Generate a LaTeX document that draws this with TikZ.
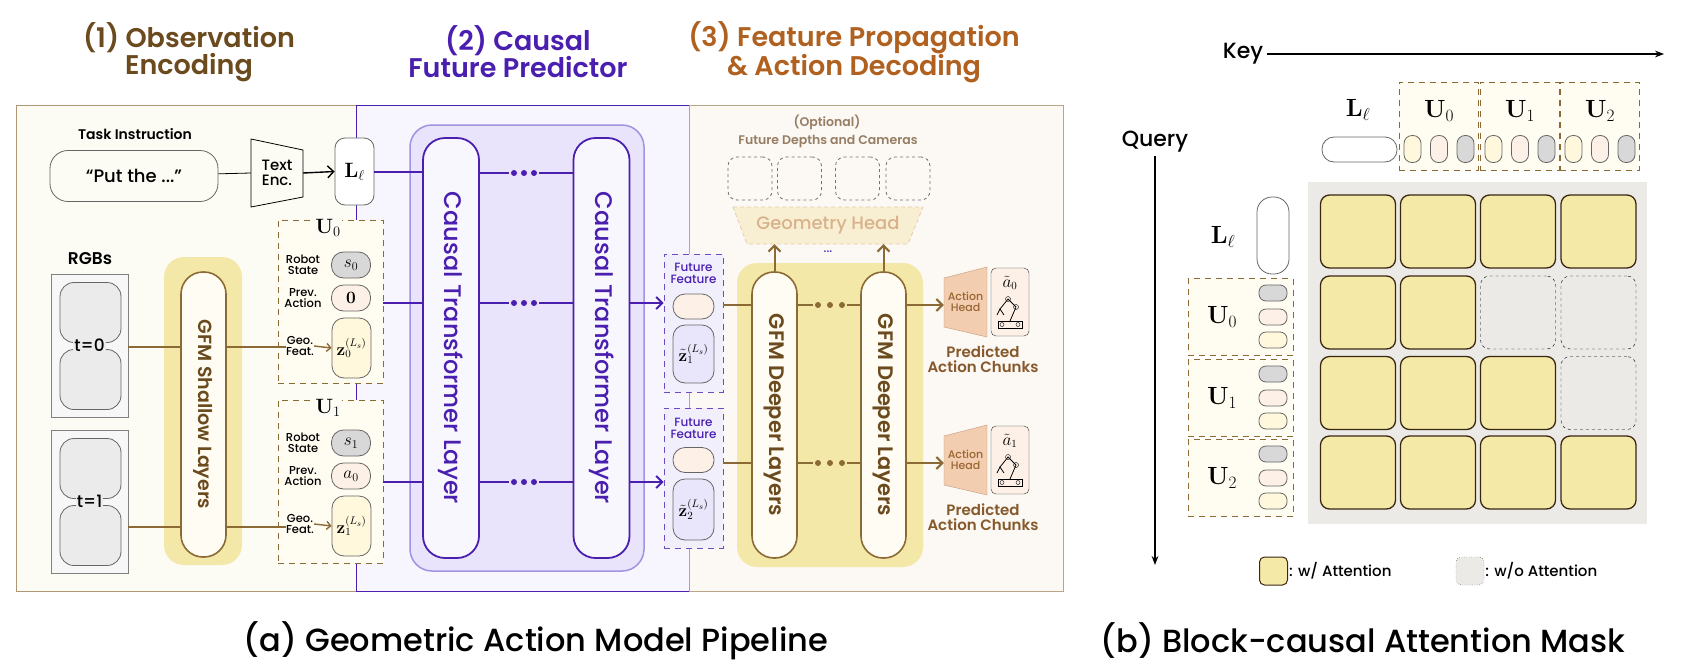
\documentclass[tikz,border=0pt]{standalone}
\usepackage[no-math]{fontspec}
\setmainfont{Poppins}[UprightFont={* Medium}, BoldFont={* SemiBold}]
\usepackage{xcolor}
\usepackage{tikz}
\usetikzlibrary{arrows.meta, positioning, calc, backgrounds}

\definecolor{obsbrown}{HTML}{6B4A1E}
\definecolor{cauPurple}{HTML}{4A1FB0}
\definecolor{decOrange}{HTML}{B0601F}
\definecolor{halo}{HTML}{F4E8A8}
\definecolor{layerfill}{HTML}{FFFDF3}
\definecolor{layerline}{HTML}{8B6A35}
\definecolor{cauhalo}{HTML}{E9E3FB}
\definecolor{cauhaloline}{HTML}{A292E0}
\definecolor{tokgray}{HTML}{D8D8D8}
\definecolor{tokpink}{HTML}{FDF0E6}
\definecolor{tokcream}{HTML}{FFF8DC}
\definecolor{toklav}{HTML}{E9E5FB}
\definecolor{cellfill}{HTML}{F4E9A6}
\definecolor{gridbg}{HTML}{EBEAE6}
\definecolor{obspanel}{HTML}{FDFCF4}
\definecolor{caupanel}{HTML}{F7F5FD}
\definecolor{decpanel}{HTML}{FCF8F3}
\definecolor{geofill}{HTML}{F8EFD2}
\definecolor{headfill}{HTML}{F3CDB0}
\definecolor{headline}{HTML}{C49A7A}

\newcommand{\fsz}[1]{\fontsize{#1}{#1}\selectfont}

\begin{document}
\begin{tikzpicture}[
    x=1pt, y=-1pt,
    font=\fsz{11},
    token/.style={draw=black!60, thick, rounded corners=#1, inner sep=0pt},
    token/.default=12,
    layer/.style={draw=layerline, line width=1.6pt, fill=layerfill, rounded corners=22, minimum width=45, minimum height=286},
    caulayer/.style={draw=cauPurple, line width=1.8pt, fill=white!70!cauhalo, rounded corners=22, minimum width=56, minimum height=420},
    ubox/.style={draw=layerline, thick, dash pattern=on 6pt off 5pt, fill=tokcream!40},
    ffbox/.style={draw=cauPurple!80, thick, dash pattern=on 6pt off 5pt, fill=toklav!60, minimum width=59},
    cell/.style={draw=black!70!brown, line width=1.3pt, fill=cellfill, rounded corners=9, minimum width=75, minimum height=73},
    nocell/.style={draw=black, thin, dashed, fill=gridbg, rounded corners=9, minimum width=75, minimum height=73},
    smalllbl/.style={align=center, font=\fsz{11.5}, inner sep=0pt},
    brownline/.style={draw=layerline, line width=2pt},
    purpline/.style={draw=cauPurple, line width=2pt},
    arrow/.style={-{Straight Barb[length=6pt,width=12pt]}, line width=2pt},
    dotsty/.style={circle, inner sep=0pt, minimum size=6pt}
  ]
  \useasboundingbox (0,0) rectangle (1682,670);

  % --- titles ---
  \node[align=center, text=obsbrown, font=\fsz{27}\bfseries] at (189,52) {(1) Observation\\Encoding};
  \node[align=center, text=cauPurple, font=\fsz{27}\bfseries] at (518,52) {(2) Causal\\Future Predictor};
  \node[align=center, text=decOrange, font=\fsz{27}\bfseries] at (854,52) {(3) Feature Propagation\\\& Action Decoding};

  % --- panels ---
  \fill[obspanel] (16,105) rectangle (356,591);
  \draw[draw=layerline!70] (356,105) -- (16,105) -- (16,591) -- (356,591);
  \filldraw[fill=caupanel, draw=cauPurple, thin] (356,105) rectangle (689,591);
  \filldraw[fill=decpanel, draw=layerline!60] (689,105) rectangle (1063,591);

  % --- observation encoding ---
  \node[font=\fsz{14}\bfseries] (tasklbl) at (135,134) {Task Instruction};
  \node[draw=black!60, thick, rounded corners=18, minimum width=168, minimum height=51, font=\fsz{18}] (prompt) at (134,176) {“Put the ...”};
  \node[minimum width=52, minimum height=68, inner sep=0pt, align=center, font=\fsz{15}] (enc) at (277,173) {Text\\Enc.};
  \draw[thick, line join=miter] ([shift={(-26,-34)}]enc.center) -- ([shift={(26,-23)}]enc.center) -- ([shift={(26,24)}]enc.center) -- ([shift={(-26,34)}]enc.center) -- cycle;
  \node[draw=black!60, thick, fill=white, rounded corners=10, minimum width=39, minimum height=67, font=\fsz{22}] (Ll) at (354.5,171.5) {$\mathbf{L}_\ell$};
  \draw[thick] (prompt) -- (enc.west);
  \draw[arrow, line width=1.4pt] (enc.east) -- (Ll.west);

  \node[font=\fsz{17}\bfseries] (rgblbl) at (90,259) {RGBs};
  \foreach \t/\yy in {0/345.5, 1/501.5}{
    \node[draw=black!50, fill=black!3, minimum width=77, minimum height=143] (rgb\t) at (89.5,\yy) {};
    \filldraw[draw=black!60, thick, fill=black!8, rounded corners=14] (60,\yy-63) rectangle (121,\yy-3);
    \filldraw[draw=black!60, thick, fill=black!8, rounded corners=14] (60,\yy+4) rectangle (121,\yy+64);
    \node[fill=black!8, inner sep=1pt, font=\fsz{17}] at (89.5,\yy) {t=\t};
  }
  \node[fill=halo, rounded corners=20, minimum width=78, minimum height=308] (shalhalo) at (203,411) {};
  \node[layer, minimum height=285] (shallow) at (203.5,414.5) {};
  \node[rotate=-90, text=obsbrown, font=\fsz{19}\bfseries] at (shallow) {GFM Shallow Layers};

  % token groups
  \node[ubox, minimum width=105, minimum height=163] (U0) at (330.5,301.5) {};
  \node[ubox, minimum width=105, minimum height=163] (U1) at (330.5,481.5) {};
  \node[fill=obspanel, inner sep=1pt, font=\fsz{22}] at (328,228) {$\mathbf{U}_0$};
  \node[fill=obspanel, inner sep=1pt, font=\fsz{22}] at (328,408) {$\mathbf{U}_1$};
  \foreach \u/\yy/\pa in {0/0/\mathbf{0}, 1/178/a_0}{
    \node[smalllbl] at (303,265+\yy) {Robot\\State};
    \node[token, fill=tokgray, minimum width=39, minimum height=26, font=\fsz{18}] (s\u) at (351,265+\yy) {$s_\u$};
    \node[smalllbl] at (303,298+\yy) {Prev.\\Action};
    \node[token, fill=tokpink, minimum width=39, minimum height=26, font=\fsz{18}] (p\u) at (351,298+\yy) {$\pa$};
    \node[smalllbl] (geo\u) at (300,346+\yy) {Geo.\\Feat.};
    \node[token, fill=tokcream, minimum width=39, minimum height=60, font=\fsz{16}] (z\u) at (351.5,348+\yy) {$\mathbf{z}_\u^{(L_s)}$};
    \draw[-{Straight Barb[length=4pt,width=8pt]}, layerline, line width=1.4pt] (geo\u.east) -- (z\u.west);
  }
  \draw[brownline] (rgb0.east |- 0,347) -- (shallow.west |- 0,347);
  \draw[brownline] (shallow.east |- 0,347) -- (geo0.west |- 0,347);
  \draw[brownline] (rgb1.east |- 0,527) -- (shallow.west |- 0,527);
  \draw[brownline] (shallow.east |- 0,527) -- (geo1.west |- 0,527);

  % --- causal future predictor ---
  \node[fill=cauhalo, draw=cauhaloline, line width=1.5pt, rounded corners=22, minimum width=234, minimum height=446] (cauhalo) at (527,348) {};
  \node[caulayer] (cau1) at (451,348) {};
  \node[caulayer] (cau2) at (601.5,348) {};
  \node[rotate=-90, text=cauPurple, font=\fsz{24}] at (cau1) {Causal Transformer Layer};
  \node[rotate=-90, text=cauPurple, font=\fsz{24}] at (cau2) {Causal Transformer Layer};
  \draw[purpline] (Ll.east) -- (cau1.west |- Ll.east);
  \draw[purpline] (U0.east |- 0,303) -- (cau1.west |- 0,303);
  \draw[purpline] (U1.east |- 0,482) -- (cau1.west |- 0,482);
  \foreach \yy in {173, 303, 482}{
    \draw[purpline] (cau1.east |- 0,\yy) -- (509,\yy);
    \draw[purpline] (539,\yy) -- (cau2.west |- 0,\yy);
    \foreach \dx in {-10,0,10}
      \node[dotsty, fill=cauPurple] at (524+\dx,\yy) {};
  }

  % --- future features ---
  \node[ffbox, minimum height=138] (ff1) at (693.5,323) {};
  \node[ffbox, minimum height=140] (ff2) at (693.5,478) {};
  \node[smalllbl, text=cauPurple, font=\fsz{12}] at (693.5,273) {Future\\Feature};
  \node[smalllbl, text=cauPurple, font=\fsz{12}] at (693.5,428) {Future\\Feature};
  \node[token, fill=tokpink, minimum width=41, minimum height=25] (fp1) at (693.5,306.5) {};
  \node[token, fill=tokpink, minimum width=41, minimum height=25] (fp2) at (693.5,460) {};
  \node[token, fill=toklav, minimum width=41, minimum height=58, font=\fsz{16}] (zt1) at (693.5,354) {$\tilde{\mathbf{z}}_1^{(L_s)}$};
  \node[token, fill=toklav, minimum width=41, minimum height=61, font=\fsz{16}] (zt2) at (693.5,509.5) {$\tilde{\mathbf{z}}_2^{(L_s)}$};
  \draw[arrow, cauPurple] (cau2.east |- 0,303) -- (ff1.west |- 0,303);
  \draw[arrow, cauPurple] (cau2.east |- 0,482) -- (ff2.west |- 0,482);

  % --- feature propagation & action decoding ---
  \node[text=black!45!brown!70, font=\fsz{12.5}\bfseries] at (827,122) {(Optional)};
  \node[text=black!45!brown!70, font=\fsz{12.5}\bfseries] at (828,142) {Future Depths and Cameras};
  \foreach \i/\xx in {1/750, 2/799.5, 3/857.5, 4/908}
    \node[draw=black!55, thick, dash pattern=on 3pt off 3pt, rounded corners=9, minimum width=44, minimum height=43] (fut\i) at (\xx,178.5) {};
  \filldraw[fill=geofill, draw=brown!40, thick, dash pattern=on 4pt off 3pt] (733,207) -- (923,207) -- (908,244) -- (747,244) -- cycle;
  \node[minimum width=160, minimum height=37, text=brown!60!white, font=\fsz{18}] (geohead) at (828,225.5) {Geometry Head};

  \node[fill=halo, rounded corners=20, minimum width=186, minimum height=304] (deephalo) at (830,415) {};
  \node[layer] (deep1) at (774.5,415) {};
  \node[layer] (deep2) at (883.5,415) {};
  \node[rotate=-90, text=obsbrown, font=\fsz{21}\bfseries] at (deep1) {GFM Deeper Layers};
  \node[rotate=-90, text=obsbrown, font=\fsz{21}\bfseries] at (deep2) {GFM Deeper Layers};
  \draw[arrow, layerline] (deep1.north) -- (deep1.north |- geohead.south);
  \draw[arrow, layerline] (deep2.north) -- (deep2.north |- geohead.south);
  \node[text=cauPurple, font=\fsz{12}] at (828,252) {...};

  \foreach \k/\yy in {0/305, 1/463}{
    \draw[brownline] (693.5+29.5,\yy) -- (deep1.west |- 0,\yy);
    \draw[brownline] (deep1.east |- 0,\yy) -- (813,\yy);
    \draw[brownline] (847,\yy) -- (deep2.west |- 0,\yy);
    \foreach \dx in {-12,0,12}
      \node[dotsty, fill=layerline] at (830+\dx,\yy) {};
    % action head
    \filldraw[fill=headfill, draw=headline] (944,\yy-27) -- (987,\yy-38) -- (987,\yy+32) -- (944,\yy+22) -- cycle;
    \node[smalllbl, text=brown!80!black, font=\fsz{11}, minimum width=43, minimum height=50] (ahead\k) at (965.5,\yy-3) {Action\\Head};
    \draw[arrow, layerline] (deep2.east |- 0,\yy) -- (ahead\k.west |- 0,\yy);
    \node[draw=black!80, fill=tokpink, rounded corners=5, minimum width=38, minimum height=68] (chunk\k) at (1010,\yy-3) {};
    \node[font=\fsz{16}] at (1010,\yy-22) {$\tilde{a}_\k$};
    % robot icon
    \draw[thick] (998,\yy+16) rectangle (1022,\yy+23);
    \draw (1002,\yy+19.5) circle (2) (1018,\yy+19.5) circle (2);
    \draw[thick] (1010,\yy+16) -- (1016,\yy+2) -- (1008,\yy-6) -- (1000,\yy+4);
    \draw (1008,\yy-6) circle (2.5) (1016,\yy+2) circle (2.5);
    \draw[thick] (997,\yy+10) -- (1000,\yy+4) -- (1004,\yy+10);
    \node[align=center, text=brown!70!black, font=\fsz{15}\bfseries] at (983,\yy+54) {Predicted\\Action Chunks};
  }

  % --- attention mask ---
  \node[font=\fsz{22}] (key) at (1243,54) {Key};
  \coordinate (keyend) at (1664,54);
  \draw[-{Stealth[length=9pt]}, line width=1.4pt] (key.east) -- (keyend);
  \node[font=\fsz{22}] (query) at (1155,142) {Query};
  \coordinate (queryend) at (1155,565);
  \draw[-{Stealth[length=9pt]}, line width=1.4pt] (query.south) -- (queryend);

  \fill[gridbg] (1308,182) rectangle (1647,524);
  \foreach \r/\yy in {0/231.5, 1/312.5, 2/393, 3/472.5}
    \foreach \c/\xx in {0/1358, 1/1438, 2/1518, 3/1598.5}{
      \pgfmathtruncatemacro{\vis}{or(\c<=\r, \r==0)}
      \ifnum\vis=1
        \node[cell] (m\r\c) at (\xx,\yy) {};
      \else
        \node[nocell] (m\r\c) at (\xx,\yy) {};
      \fi
    }

  % key header
  \node[font=\fsz{26}] at (1358,110) {$\mathbf{L}_\ell$};
  \node[token=12, fill=white, minimum width=75, minimum height=25] (kL) at (1359.5,149.5) {};
  \foreach \u/\xx in {0/1399, 1/1480, 2/1560}{
    \node[ubox, anchor=north west, minimum width=79, minimum height=88] (kU\u) at (\xx,82) {};
    \node[font=\fsz{26}] at (\xx+40,111) {$\mathbf{U}_\u$};
    \node[token=8, fill=tokcream, minimum width=17, minimum height=27] at (\xx+13.5,149) {};
    \node[token=8, fill=tokpink, minimum width=17, minimum height=27] at (\xx+40,149) {};
    \node[token=8, fill=tokgray, minimum width=17, minimum height=27] at (\xx+66.5,149) {};
  }
  % query header
  \node[font=\fsz{26}] at (1223,237) {$\mathbf{L}_\ell$};
  \node[token=15, fill=white, minimum width=32, minimum height=77] (qL) at (1273,235.5) {};
  \foreach \u/\yy in {0/317, 1/398, 2/478}{
    \node[ubox, minimum width=105, minimum height=77] (qU\u) at (1240.5,\yy) {};
    \node[font=\fsz{26}] at (1222,\yy) {$\mathbf{U}_\u$};
    \node[token=7, fill=tokgray, minimum width=28, minimum height=16] at (1273,\yy-24) {};
    \node[token=7, fill=tokpink, minimum width=28, minimum height=16] at (1273,\yy) {};
    \node[token=7, fill=tokcream, minimum width=28, minimum height=16] at (1273,\yy+23) {};
  }

  % legend
  \node[cell, minimum width=28, minimum height=28, rounded corners=5, line width=1pt] (legw) at (1273.5,571) {};
  \node[anchor=west, font=\fsz{15}, inner sep=1pt] at (legw.east) {: w/ Attention};
  \node[nocell, dotted, minimum width=28, minimum height=28, rounded corners=5] (legwo) at (1470,571) {};
  \node[anchor=west, font=\fsz{15}, inner sep=1pt] at (legwo.east) {: w/o Attention};

  % --- captions ---
  \node[font=\fsz{32}] at (536,641) {(a) Geometric Action Model Pipeline};
  \node[font=\fsz{32}] at (1363,641) {(b) Block-causal Attention Mask};
\end{tikzpicture}
\end{document}
